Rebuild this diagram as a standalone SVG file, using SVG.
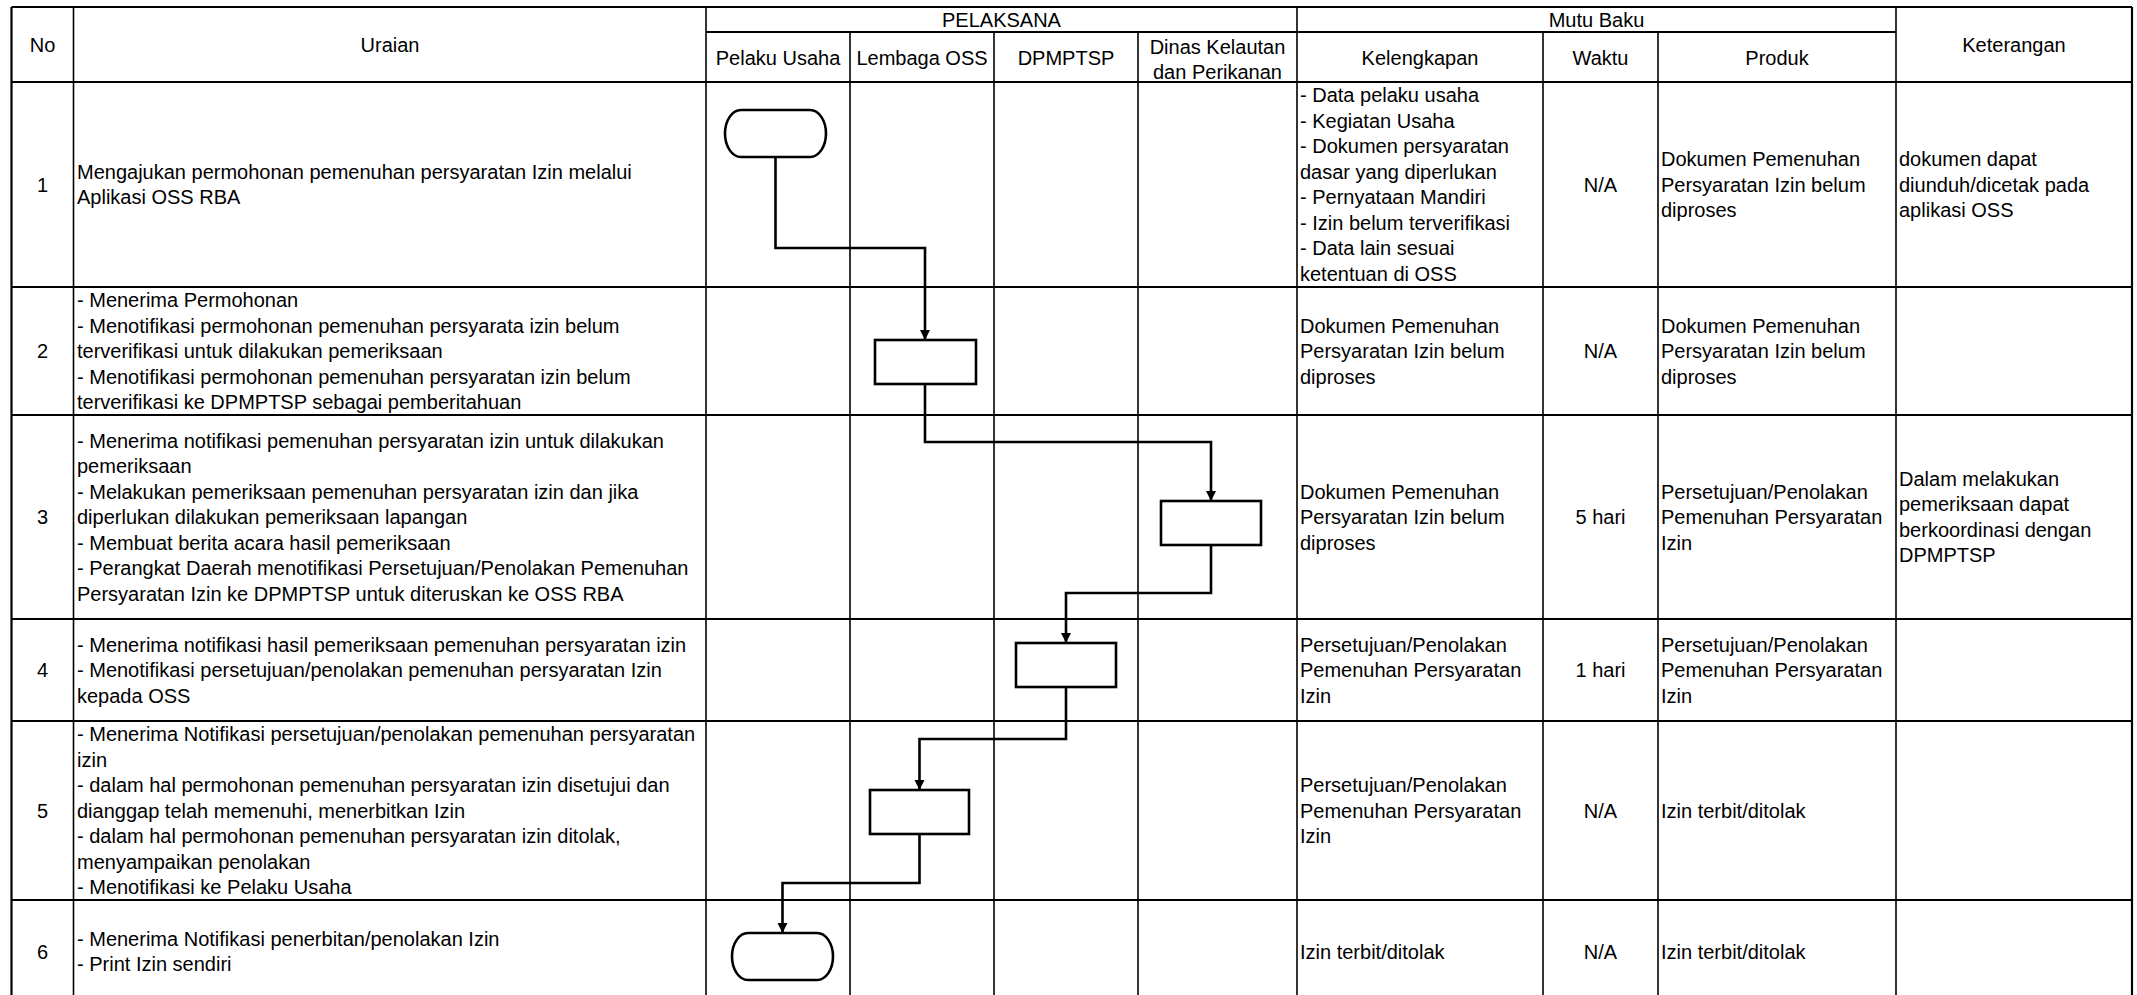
<svg xmlns="http://www.w3.org/2000/svg" width="2137" height="995" viewBox="0 0 2137 995">
<style>
  .t { font-family: "Liberation Sans", Arial, sans-serif; font-size: 20px; fill: #000; }
  .c { text-anchor: middle; }
  .h { stroke: #000; stroke-width: 2.2; fill: none; }
  .v { stroke: #000; stroke-width: 1.6; fill: none; }
  .shape { fill: #fff; stroke: #000; stroke-width: 2.6; }
  .conn { fill: none; stroke: #000; stroke-width: 2.6; marker-end: url(#arrow); }
</style>
<defs>
  <marker id="arrow" viewBox="0 0 10 10" refX="10" refY="5" markerUnits="userSpaceOnUse" markerWidth="10" markerHeight="11" orient="auto">
    <path d="M0,0 L10,5 L0,10 Z" fill="#000"/>
  </marker>
</defs>
<rect x="0" y="0" width="2137" height="995" fill="#fff"/>

<g id="grid">
  <!-- horizontal lines -->
  <line class="h" x1="11.5" y1="7" x2="2132" y2="7"/>
  <line class="h" x1="706" y1="32" x2="1896" y2="32"/>
  <line class="h" x1="11.5" y1="82" x2="2132" y2="82"/>
  <line class="h" x1="11.5" y1="287" x2="2132" y2="287"/>
  <line class="h" x1="11.5" y1="415" x2="2132" y2="415"/>
  <line class="h" x1="11.5" y1="619" x2="2132" y2="619"/>
  <line class="h" x1="11.5" y1="721" x2="2132" y2="721"/>
  <line class="h" x1="11.5" y1="900" x2="2132" y2="900"/>
  <line class="h" x1="11.5" y1="1003" x2="2132" y2="1003"/>
  <!-- vertical lines -->
  <line class="h" x1="11.5" y1="7" x2="11.5" y2="1003"/>
  <line class="v" x1="73.5" y1="7" x2="73.5" y2="1003"/>
  <line class="v" x1="706" y1="7" x2="706" y2="1003"/>
  <line class="v" x1="850" y1="32" x2="850" y2="1003"/>
  <line class="v" x1="994" y1="32" x2="994" y2="1003"/>
  <line class="v" x1="1138" y1="32" x2="1138" y2="1003"/>
  <line class="v" x1="1297" y1="7" x2="1297" y2="1003"/>
  <line class="v" x1="1543" y1="32" x2="1543" y2="1003"/>
  <line class="v" x1="1658" y1="32" x2="1658" y2="1003"/>
  <line class="v" x1="1896" y1="7" x2="1896" y2="1003"/>
  <line class="h" x1="2132" y1="7" x2="2132" y2="1003"/>
</g>

<g id="header" class="t">
  <text class="c" x="42.5" y="51.5">No</text>
  <text class="c" x="390" y="51.5">Uraian</text>
  <text class="c" x="1001.5" y="27">PELAKSANA</text>
  <text class="c" x="1596.5" y="27">Mutu Baku</text>
  <text class="c" x="778" y="65">Pelaku Usaha</text>
  <text class="c" x="922" y="65">Lembaga OSS</text>
  <text class="c" x="1066" y="65">DPMPTSP</text>
  <text class="c" x="1217.5" y="53.5">Dinas Kelautan</text>
  <text class="c" x="1217.5" y="78.5">dan Perikanan</text>
  <text class="c" x="1420" y="65">Kelengkapan</text>
  <text class="c" x="1600.5" y="65">Waktu</text>
  <text class="c" x="1777" y="65">Produk</text>
  <text class="c" x="2014" y="51.5">Keterangan</text>
</g>

<g id="row1" class="t">
  <text class="c" x="42.5" y="191.5">1</text>
  <text x="77" y="178.75">Mengajukan permohonan pemenuhan persyaratan Izin melalui</text>
  <text x="77" y="204.25">Aplikasi OSS RBA</text>
  <text x="1300" y="102.25">- Data pelaku usaha</text>
  <text x="1300" y="127.75">- Kegiatan Usaha</text>
  <text x="1300" y="153.25">- Dokumen persyaratan</text>
  <text x="1300" y="178.75">dasar yang diperlukan</text>
  <text x="1300" y="204.25">- Pernyataan Mandiri</text>
  <text x="1300" y="229.75">- Izin belum terverifikasi</text>
  <text x="1300" y="255.25">- Data lain sesuai</text>
  <text x="1300" y="280.75">ketentuan di OSS</text>
  <text class="c" x="1600.5" y="191.5">N/A</text>
  <text x="1661" y="166">Dokumen Pemenuhan</text>
  <text x="1661" y="191.5">Persyaratan Izin belum</text>
  <text x="1661" y="217">diproses</text>
  <text x="1899" y="166">dokumen dapat</text>
  <text x="1899" y="191.5">diunduh/dicetak pada</text>
  <text x="1899" y="217">aplikasi OSS</text>
</g>

<g id="row2" class="t">
  <text class="c" x="42.5" y="358">2</text>
  <text x="77" y="307">- Menerima Permohonan</text>
  <text x="77" y="332.5">- Menotifikasi permohonan pemenuhan persyarata izin belum</text>
  <text x="77" y="358">terverifikasi untuk dilakukan pemeriksaan</text>
  <text x="77" y="383.5">- Menotifikasi permohonan pemenuhan persyaratan izin belum</text>
  <text x="77" y="409">terverifikasi ke DPMPTSP sebagai pemberitahuan</text>
  <text x="1300" y="332.5">Dokumen Pemenuhan</text>
  <text x="1300" y="358">Persyaratan Izin belum</text>
  <text x="1300" y="383.5">diproses</text>
  <text class="c" x="1600.5" y="358">N/A</text>
  <text x="1661" y="332.5">Dokumen Pemenuhan</text>
  <text x="1661" y="358">Persyaratan Izin belum</text>
  <text x="1661" y="383.5">diproses</text>
</g>

<g id="row3" class="t">
  <text class="c" x="42.5" y="524">3</text>
  <text x="77" y="447.5">- Menerima notifikasi pemenuhan persyaratan izin untuk dilakukan</text>
  <text x="77" y="473">pemeriksaan</text>
  <text x="77" y="498.5">- Melakukan pemeriksaan pemenuhan persyaratan izin dan jika</text>
  <text x="77" y="524">diperlukan dilakukan pemeriksaan lapangan</text>
  <text x="77" y="549.5">- Membuat berita acara hasil pemeriksaan</text>
  <text x="77" y="575">- Perangkat Daerah menotifikasi Persetujuan/Penolakan Pemenuhan</text>
  <text x="77" y="600.5">Persyaratan Izin ke DPMPTSP untuk diteruskan ke OSS RBA</text>
  <text x="1300" y="498.5">Dokumen Pemenuhan</text>
  <text x="1300" y="524">Persyaratan Izin belum</text>
  <text x="1300" y="549.5">diproses</text>
  <text class="c" x="1600.5" y="524">5 hari</text>
  <text x="1661" y="498.5">Persetujuan/Penolakan</text>
  <text x="1661" y="524">Pemenuhan Persyaratan</text>
  <text x="1661" y="549.5">Izin</text>
  <text x="1899" y="485.75">Dalam melakukan</text>
  <text x="1899" y="511.25">pemeriksaan dapat</text>
  <text x="1899" y="536.75">berkoordinasi dengan</text>
  <text x="1899" y="562.25">DPMPTSP</text>
</g>

<g id="row4" class="t">
  <text class="c" x="42.5" y="677">4</text>
  <text x="77" y="651.5">- Menerima notifikasi hasil pemeriksaan pemenuhan persyaratan izin</text>
  <text x="77" y="677">- Menotifikasi persetujuan/penolakan pemenuhan persyaratan Izin</text>
  <text x="77" y="702.5">kepada OSS</text>
  <text x="1300" y="651.5">Persetujuan/Penolakan</text>
  <text x="1300" y="677">Pemenuhan Persyaratan</text>
  <text x="1300" y="702.5">Izin</text>
  <text class="c" x="1600.5" y="677">1 hari</text>
  <text x="1661" y="651.5">Persetujuan/Penolakan</text>
  <text x="1661" y="677">Pemenuhan Persyaratan</text>
  <text x="1661" y="702.5">Izin</text>
</g>

<g id="row5" class="t">
  <text class="c" x="42.5" y="817.5">5</text>
  <text x="77" y="741">- Menerima Notifikasi persetujuan/penolakan pemenuhan persyaratan</text>
  <text x="77" y="766.5">izin</text>
  <text x="77" y="792">- dalam hal permohonan pemenuhan persyaratan izin disetujui dan</text>
  <text x="77" y="817.5">dianggap telah memenuhi, menerbitkan Izin</text>
  <text x="77" y="843">- dalam hal permohonan pemenuhan persyaratan izin ditolak,</text>
  <text x="77" y="868.5">menyampaikan penolakan</text>
  <text x="77" y="894">- Menotifikasi ke Pelaku Usaha</text>
  <text x="1300" y="792">Persetujuan/Penolakan</text>
  <text x="1300" y="817.5">Pemenuhan Persyaratan</text>
  <text x="1300" y="843">Izin</text>
  <text class="c" x="1600.5" y="817.5">N/A</text>
  <text x="1661" y="817.5">Izin terbit/ditolak</text>
</g>

<g id="row6" class="t">
  <text class="c" x="42.5" y="958.5">6</text>
  <text x="77" y="945.75">- Menerima Notifikasi penerbitan/penolakan Izin</text>
  <text x="77" y="971.25">- Print Izin sendiri</text>
  <text x="1300" y="958.5">Izin terbit/ditolak</text>
  <text class="c" x="1600.5" y="958.5">N/A</text>
  <text x="1661" y="958.5">Izin terbit/ditolak</text>
</g>

<g id="connectors">
  <path class="conn" d="M775.5,157 V248 H925 V340"/>
  <path class="conn" d="M925,384 V442 H1211 V501"/>
  <path class="conn" d="M1211,545 V593 H1066 V643"/>
  <path class="conn" d="M1066,687 V739 H919.5 V790"/>
  <path class="conn" d="M919.5,834 V883 H782.5 V933"/>
</g>

<g id="node-t1"><rect class="shape" x="725" y="110" width="101" height="47" rx="16" ry="23.5"/></g>
<g id="node-b2"><rect class="shape" x="875" y="340" width="101" height="44"/></g>
<g id="node-b3"><rect class="shape" x="1161" y="501" width="100" height="44"/></g>
<g id="node-b4"><rect class="shape" x="1016" y="643" width="100" height="44"/></g>
<g id="node-b5"><rect class="shape" x="870" y="790" width="99" height="44"/></g>
<g id="node-t6"><rect class="shape" x="732" y="933" width="101" height="47" rx="16" ry="23.5"/></g>
</svg>
